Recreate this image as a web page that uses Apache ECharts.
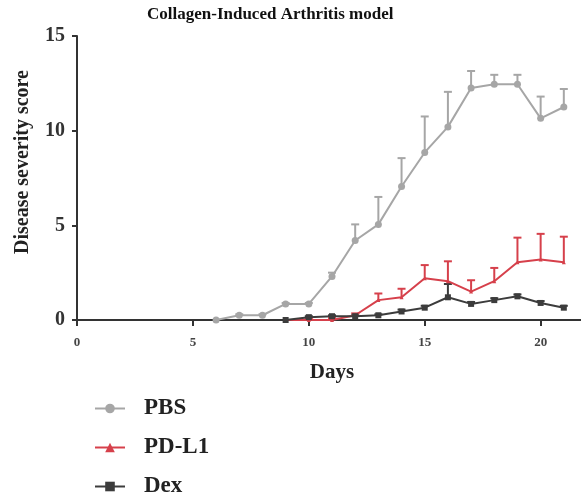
<!DOCTYPE html>
<html>
<head>
<meta charset="utf-8">
<script src="https://cdn.jsdelivr.net/npm/echarts@6/dist/echarts.min.js"></script>
<style>html,body{margin:0;padding:0;background:#fff;}#c{width:581px;height:502px;}</style>
</head>
<body>
<div id="c"></div>
<script>
var pbsDays = [6,7,8,9,10,11,12,13,14,15,16,17,18,19,20,21];
var pbsVals = [0,0.25,0.25,0.85,0.85,2.3,4.2,5.05,7.05,8.85,10.2,12.25,12.45,12.45,10.65,11.25];
var pbsErr  = [0,0.05,0.05,0.05,0.05,0.2,0.85,1.45,1.5,1.9,1.85,0.9,0.5,0.5,1.15,0.95];

var pdDays = [9,10,11,12,13,14,15,16,17,18,19,20,21];
var pdVals = [0,0,0,0.25,1.05,1.2,2.2,2.05,1.5,2.05,3.05,3.2,3.05];
var pdErr  = [0,0.1,0.1,0.1,0.35,0.45,0.7,1.05,0.6,0.7,1.3,1.35,1.35];

var dexDays = [9,10,11,12,13,14,15,16,17,18,19,20,21];
var dexVals = [0,0.15,0.2,0.2,0.25,0.45,0.65,1.2,0.85,1.05,1.25,0.9,0.65];
var dexErr  = [0,0.05,0.05,0.05,0.05,0.1,0.1,0.7,0.1,0.1,0.1,0.1,0.1];

var xTicks = [0,5,10,15,20];
var yTicks = [0,5,10,15];

var COL = {PBS:'#a6a6a6', 'PD-L1':'#d6404b', Dex:'#3c3c3c'};
var FONT = '"Liberation Serif","Times New Roman",serif';

function pts(d, v){ return d.map(function(x,i){ return [x, v[i]]; }); }
function errPts(d, v, e){ return d.map(function(x,i){ return [x, v[i], v[i]+e[i]]; }); }

function errSeries(name, d, v, e){
  var color = COL[name];
  return {
    type:'custom', name: name + ' err', z: 1, silent:true,
    data: errPts(d, v, e),
    encode: {x:0, y:[1,2]},
    renderItem: function(params, api){
      var x = api.value(0), lo = api.value(1), hi = api.value(2);
      if (!(hi > lo)) return null;
      var p0 = api.coord([x, lo]), p1 = api.coord([x, hi]);
      var hw = 4;
      return {type:'group', children:[
        {type:'line', shape:{x1:p0[0],y1:p0[1],x2:p1[0],y2:p1[1]}, style:{stroke:color, lineWidth:2}},
        {type:'line', shape:{x1:p1[0]-hw,y1:p1[1],x2:p1[0]+hw,y2:p1[1]}, style:{stroke:color, lineWidth:2}}
      ]};
    }
  };
}
function lineSeries(name, d, v, sym, size){
  return {
    type:'line', name:name, z: 3, data: pts(d, v),
    symbol: sym, symbolSize: size, showSymbol:true,
    lineStyle:{color:COL[name], width:2},
    itemStyle:{color:COL[name], borderWidth:0},
    emphasis:{disabled:true}, animation:false
  };
}

var chart = echarts.init(document.getElementById('c'));
chart.setOption({
  animation:false,
  backgroundColor:'#fff',
  title:{
    text:'Collagen-Induced Arthritis model', left:147, top:6, padding:0,
    textStyle:{fontFamily:FONT, fontWeight:'bold', fontSize:17, color:'#111'}
  },
  legend:{
    orient:'vertical', left:94, top:397, padding:0, itemGap:16, itemWidth:30, itemHeight:12,
    data:['PBS','PD-L1','Dex'],
    textStyle:{fontFamily:FONT, fontWeight:'bold', fontSize:23, lineHeight:23, color:'#222', padding:[0,0,0,14]}
  },
  grid:{left:77, top:36, right:-6, bottom:182, outerBoundsMode:'none', containLabel:false},
  xAxis:[{
    type:'value', min:0, max:22, interval:5,
    name:'Days', nameLocation:'middle', nameGap:42,
    nameTextStyle:{fontFamily:FONT, fontWeight:'bold', fontSize:21, color:'#222', verticalAlign:'top'},
    axisLine:{show:true, onZero:false, lineStyle:{color:'#333', width:2}},
    axisTick:{show:true, length:6, lineStyle:{color:'#333', width:2}, customValues: xTicks},
    axisLabel:{margin:16, fontFamily:FONT, fontWeight:'bold', fontSize:13, color:'#444',
      customValues: xTicks},
    splitLine:{show:false}
  },{
    type:'value', min:0, max:22, position:'top',
    axisLine:{show:true, lineStyle:{color:'#333', width:2}},
    axisTick:{show:false}, axisLabel:{show:false}, splitLine:{show:false}
  }],
  yAxis:{
    type:'value', min:0, max:15, interval:5,
    name:'Disease severity score', nameLocation:'middle', nameGap:44,
    nameTextStyle:{fontFamily:FONT, fontWeight:'bold', fontSize:20, color:'#222', padding:[0,0,0,32]},
    axisLine:{show:true, onZero:false, lineStyle:{color:'#333', width:2}},
    axisTick:{show:true, length:5, lineStyle:{color:'#333', width:2}, customValues: yTicks},
    axisLabel:{margin:12, fontFamily:FONT, fontWeight:'bold', fontSize:20, color:'#333', customValues: yTicks},
    splitLine:{show:false}
  },
  series:[
    errSeries('PBS', pbsDays, pbsVals, pbsErr),
    errSeries('PD-L1', pdDays, pdVals, pdErr),
    errSeries('Dex', dexDays, dexVals, dexErr),
    lineSeries('PBS', pbsDays, pbsVals, 'circle', 7),
    lineSeries('PD-L1', pdDays, pdVals, 'triangle', 4),
    lineSeries('Dex', dexDays, dexVals, 'rect', 6)
  ]
});
</script>
</body>
</html>
